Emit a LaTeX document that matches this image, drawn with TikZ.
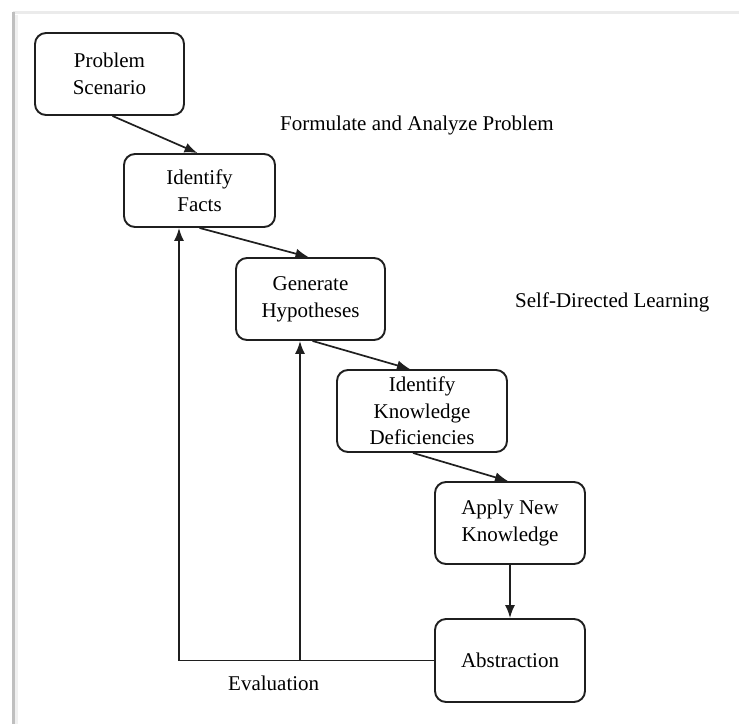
\documentclass[tikz,border=0pt]{standalone}
\usepackage{fontspec}
\setmainfont{Liberation Serif}
\usetikzlibrary{arrows.meta}
\begin{document}
\begin{tikzpicture}[x=1pt,y=-1pt,
  box/.style={draw=black!88, line width=1.9pt, rounded corners=11pt, align=center,
    font=\fontsize{21}{27}\selectfont, inner sep=0pt, text=black},
  lbl/.style={font=\fontsize{21}{27}\selectfont, inner sep=0pt, text=black, anchor=west},
  arr/.style={draw=black!88, line width=1.7pt, -{Latex[length=13pt,width=10pt]}}]
\useasboundingbox (0,0) rectangle (739,724);
\fill[white] (0,0) rectangle (739,724);
% frame of the screenshot
\draw[black!8, line width=3pt] (13,12) -- (739,12);
\draw[black!6, line width=3pt] (16,15) -- (16,724);
\draw[black!25, line width=3pt] (13,12) -- (13,724);

\node[box, minimum width=149pt, minimum height=82pt] (ps) at (109.5,74) {Problem\\Scenario};
\node[box, minimum width=151pt, minimum height=73pt] (if) at (199.5,190.5) {Identify\\Facts};
\node[box, minimum width=149pt, minimum height=82pt] (gh) at (310.5,299) {Generate\\Hypotheses};
\node[box, minimum width=170pt, minimum height=82pt, font=\fontsize{21}{26.5}\selectfont] (ikd) at (422,411) {Identify\\Knowledge\\Deficiencies};
\node[box, minimum width=150pt, minimum height=82pt] (ank) at (510,523) {Apply New\\Knowledge};
\node[box, minimum width=150pt, minimum height=83pt] (abs) at (510,660.5) {Abstraction};

\node[lbl] (fap) at (280,125) {Formulate and Analyze Problem};
\node[lbl] (sdl) at (515,302) {Self-Directed Learning};
\node[lbl] (ev) at (228,683) {Evaluation};

\coordinate (c1) at (179,660.5);
\coordinate (c2) at (300,660.5);

\draw[arr] ([xshift=3pt]ps.south) -- ([xshift=-2pt]if.north);
\draw[arr] (if.south) -- ([xshift=-2pt]gh.north);
\draw[arr] ([xshift=2pt]gh.south) -- ([xshift=-12pt]ikd.north);
\draw[arr] ([xshift=-9pt]ikd.south) -- ([xshift=-2pt]ank.north);
\draw[arr] (ank.south) -- (abs.north);
\draw[arr, rounded corners=0pt] (abs.west) -| (c1 |- if.south);
\draw[arr] (c2) -- (c2 |- gh.south);
\end{tikzpicture}
\end{document}
